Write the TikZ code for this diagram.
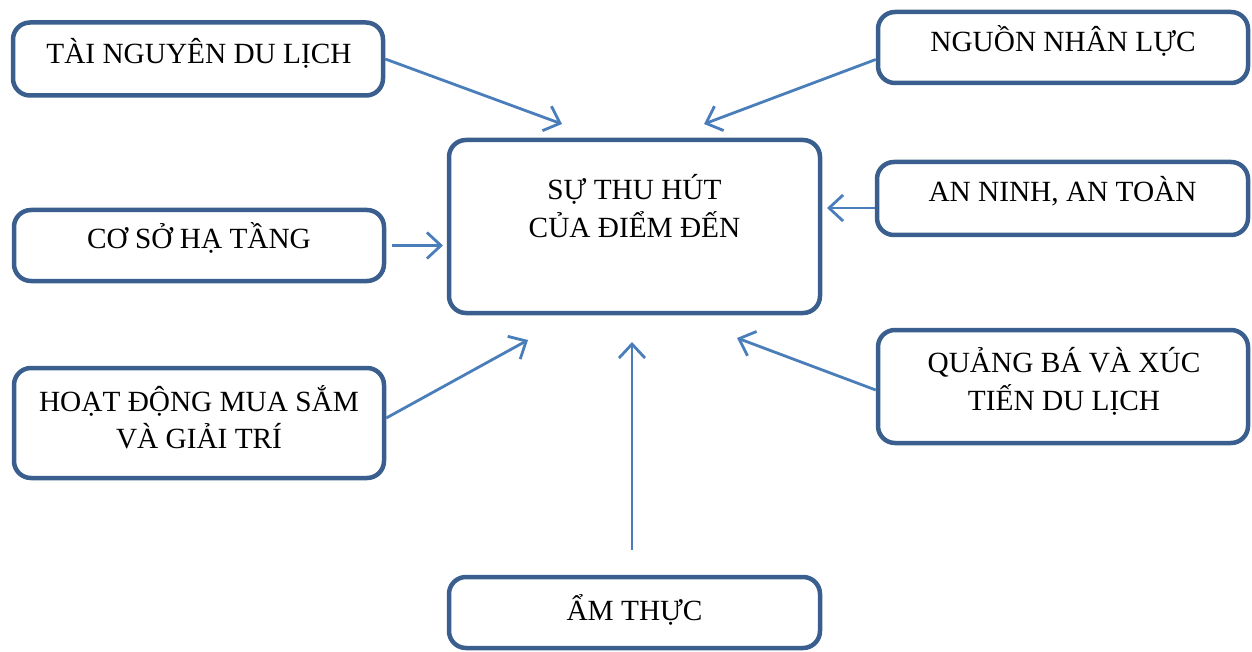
\documentclass[tikz,border=0pt]{standalone}
\usepackage{fontspec}
\setmainfont{Liberation Serif}
\usetikzlibrary{arrows.meta}
\definecolor{boxblue}{HTML}{3A5F8F}
\definecolor{arrowblue}{HTML}{4A7EBB}
\tikzset{
  box/.style={draw=boxblue, line width=4.5pt, rounded corners=17pt,
    minimum width=370pt, inner sep=0pt},
  lbl/.style={anchor=base, inner sep=0pt, font=\fontsize{29.3}{37}\selectfont},
  link/.style={draw=arrowblue, line width=2.8pt,
    -{Straight Barb[length=14pt,width=26pt]}}
}
\begin{document}
\begin{tikzpicture}[x=1pt,y=-1pt]
\useasboundingbox (0,0) rectangle (1252,652);

% boxes
\node[box, minimum height=73pt] (b1) at (198,59) {};
\node[box, minimum height=71pt] (b2) at (1063,47.5) {};
\node[box, minimum width=371pt, minimum height=173pt] (b3) at (634.5,226.5) {};
\node[box, minimum height=71pt] (b4) at (199,245.5) {};
\node[box, minimum width=371pt, minimum height=73pt] (b5) at (1062.5,198.5) {};
\node[box, minimum height=110pt] (b6) at (199,423) {};
\node[box, minimum height=113pt] (b7) at (1063,386.5) {};
\node[box, minimum width=371pt, minimum height=71pt] (b8) at (634.5,612.5) {};

% texts
\node[lbl] (t1) at (199,64) {TÀI NGUYÊN DU LỊCH};
\node[lbl] (t2) at (1063,52) {NGUỒN NHÂN LỰC};
\node[lbl] (t3a) at (634.5,200) {SỰ THU HÚT};
\node[lbl] (t3b) at (634.5,238) {CỦA ĐIỂM ĐẾN};
\node[lbl] (t4) at (199,249) {CƠ SỞ HẠ TẦNG};
\node[lbl] (t5) at (1062.5,202) {AN NINH, AN TOÀN};
\node[lbl] (t6a) at (199,411) {HOẠT ĐỘNG MUA SẮM};
\node[lbl] (t6b) at (199,448) {VÀ GIẢI TRÍ};
\node[lbl] (t7a) at (1064,372) {QUẢNG BÁ VÀ XÚC};
\node[lbl] (t7b) at (1064,410) {TIẾN DU LỊCH};
\node[lbl] (t8) at (634.5,620) {ẨM THỰC};

% arrow tips near the centre box
\coordinate (a1) at (562,124);
\coordinate (a2) at (704,124);
\coordinate (a4) at (443,245.5);
\coordinate (a5) at (827,208);
\coordinate (a6) at (528,340);
\coordinate (a7) at (737,338);
\coordinate (a8) at (632,342);

% connectors
\draw[link] (b1.east) -- (a1);
\draw[link] ([yshift=-12pt]b2.west) -- (a2);
\draw[link, shorten <=6pt] (b4.east) -- (a4);
\draw[link] ([yshift=-9.5pt]b5.west) -- (a5);
\draw[link] ([yshift=5pt]b6.east) -- (a6);
\draw[link] ([yshift=-3.5pt]b7.west) -- (a7);
\draw[link, shorten <=25pt] (a8 |- b8.north) -- (a8);
\end{tikzpicture}
\end{document}
